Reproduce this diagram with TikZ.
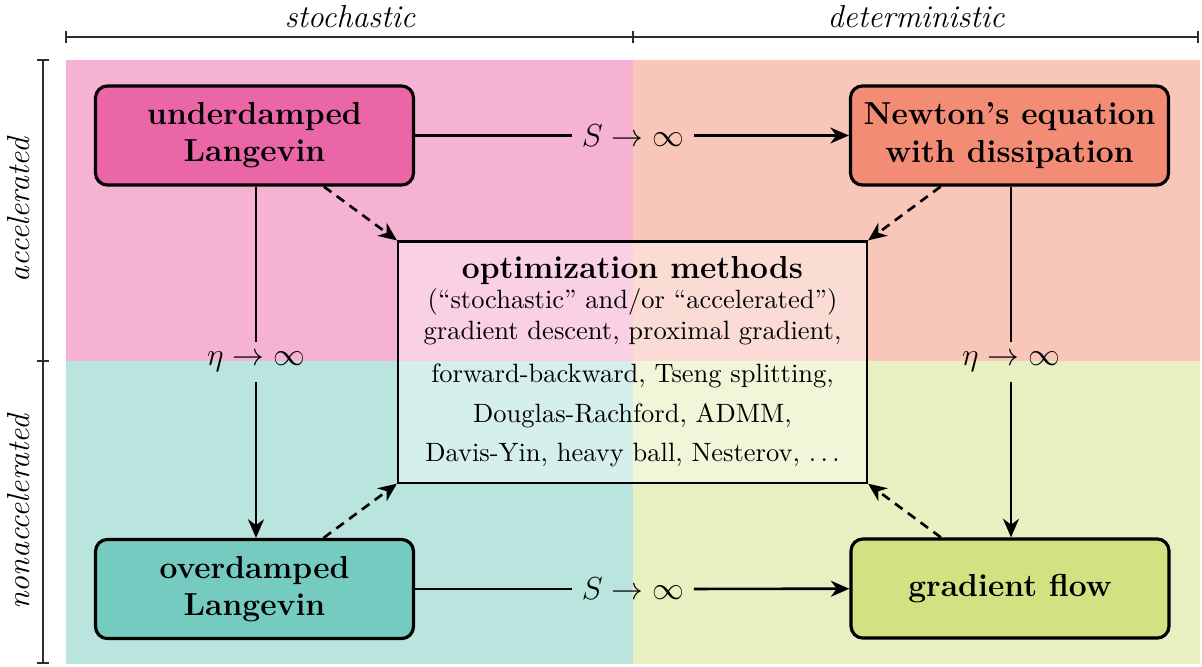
\documentclass[tikz,border=0pt]{standalone}
\usetikzlibrary{arrows.meta,calc}
\definecolor{cud}{RGB}{234,102,166}
\definecolor{cnw}{RGB}{242,140,117}
\definecolor{cod}{RGB}{118,203,192}
\definecolor{cgf}{RGB}{208,226,130}
\definecolor{axisgray}{RGB}{45,45,45}
\begin{document}
\begin{tikzpicture}[x=0.3774pt,y=-0.3774pt,
  box/.style={draw=black, very thick, rounded corners=4.5pt, minimum width=120pt, minimum height=37.4pt, align=center, font=\large\bfseries, inner sep=0pt},
  optbox/.style={draw=black, line width=0.8pt, fill=white, fill opacity=0.4, text opacity=1, minimum width=177pt, minimum height=91pt, align=center, inner sep=0pt},
  lbl/.style={font=\large, inner sep=3.5pt},
  axislbl/.style={font=\large\itshape},
  plain/.style={line width=1pt},
  arr/.style={line width=1pt, -{Stealth[length=7pt,width=6pt,inset=2.2pt]}},
  darr/.style={line width=1pt, dash pattern=on 3.5pt off 2.5pt, -{Stealth[length=7pt,width=6pt,inset=2.2pt]}},
  axis/.style={draw=axisgray, semithick}]
\useasboundingbox (0,0) rectangle (1202,666);
% backgrounds
\fill[cud!50] (66,60) rectangle (633,361);
\fill[cnw!50] (633,60) rectangle (1200,361);
\fill[cod!50] (66,361) rectangle (633,664);
\fill[cgf!50] (633,361) rectangle (1200,664);
% top axis
\draw[axis] (66,37) -- (1198,37);
\draw[axis] (66,31) -- (66,43);
\draw[axis] (633,31) -- (633,43);
\draw[axis] (1198,31) -- (1198,43);
\node[axislbl] (stoch) at (350,17) {stochastic};
\node[axislbl] (determ) at (916,17) {deterministic};
% left axis
\draw[axis] (43,60) -- (43,663);
\draw[axis] (37,60) -- (49,60);
\draw[axis] (37,361) -- (49,361);
\draw[axis] (37,663) -- (49,663);
\node[axislbl, rotate=90] (accel) at (19,210) {accelerated};
\node[axislbl, rotate=90] (nonaccel) at (19,512) {nonaccelerated};
% nodes
\node[box, fill=cud] (ud) at (254.5,135.5) {underdamped\\Langevin};
\node[box, fill=cnw] (nw) at (1009.5,135.5) {Newton's equation\\with dissipation};
\node[box, fill=cod] (od) at (254.5,589) {overdamped\\Langevin};
\node[box, fill=cgf] (gf) at (1010,588.5) {gradient flow};
\node[optbox] (opt) at (632.5,362) {{\large\bfseries optimization methods}\\[-1pt]
  (``stochastic'' and/or ``accelerated'')\\
  gradient descent, proximal gradient,\\[4pt]
  forward-backward, Tseng splitting,\\[3pt]
  Douglas-Rachford, ADMM,\\[3pt]
  Davis-Yin, heavy ball, Nesterov, $\ldots$};
% labels
\node[lbl] (stop) at (633,135.5) {$S\to\infty$};
\node[lbl] (sbot) at (633,589) {$S\to\infty$};
\node[lbl] (eleft) at (256,362) {$\eta\to\infty$};
\node[lbl] (eright) at (1011,362) {$\eta\to\infty$};
% connectors
\draw[plain] (ud) -- (stop);
\draw[arr] (stop) -- (nw);
\draw[plain] (od) -- (sbot);
\draw[arr] (sbot) -- (gf);
\draw[plain] (ud.south -| eleft.north) -- (eleft.north);
\draw[arr] (eleft.south) -- (eleft.south |- od.north);
\draw[plain] (nw.south -| eright.north) -- (eright.north);
\draw[arr] (eright.south) -- (eright.south |- gf.north);
\draw[darr] (ud) -- (opt.north west);
\draw[darr] (nw) -- (opt.north east);
\draw[darr] (od) -- (opt.south west);
\draw[darr] (gf) -- (opt.south east);
\end{tikzpicture}
\end{document}
